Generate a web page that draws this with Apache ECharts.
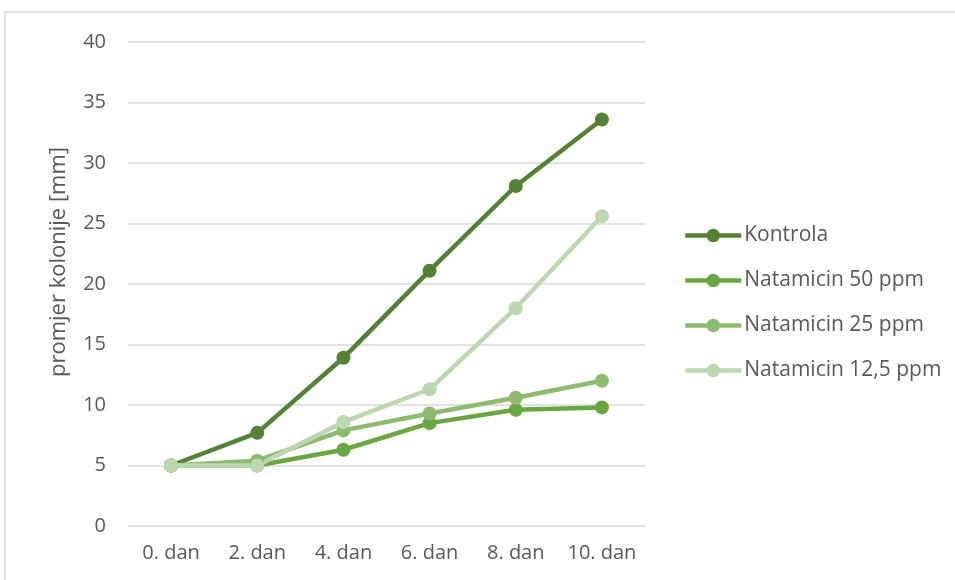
<!DOCTYPE html>
<html><head><meta charset="utf-8">
<script src="https://cdn.jsdelivr.net/npm/echarts@6/dist/echarts.min.js"></script>
<style>html,body{margin:0;padding:0;background:#fff}#c{width:955px;height:580px}</style>
</head><body><div id="c"></div>
<script>
const categories = ['0. dan','2. dan','4. dan','6. dan','8. dan','10. dan'];
const kontrola = [5, 7.7, 13.9, 21.1, 28.1, 33.6];
const nat50 = [5, 5.0, 6.3, 8.5, 9.6, 9.8];
const nat25 = [5, 5.4, 7.9, 9.3, 10.6, 12.0];
const nat125 = [5, 5.0, 8.6, 11.3, 18.0, 25.6];
const seriesNames = ['Kontrola','Natamicin 50 ppm','Natamicin 25 ppm','Natamicin 12,5 ppm'];
const colors = ['#548235','#6aa642','#8dbb70','#bdd8b0'];
const font = 'Open Sans';
const chart = echarts.init(document.getElementById('c'));
const data = [kontrola, nat50, nat25, nat125];
chart.setOption({
  animation:false,
  color: colors,
  graphic:[{type:'rect',shape:{x:5,y:12,width:960,height:580},style:{fill:'none',stroke:'#d9d9d9',lineWidth:1.5},silent:true}],
  grid:{left:128,right:310,top:42,bottom:54},
  legend:{orient:'vertical',left:683,top:225,padding:0,itemWidth:56,itemHeight:17,itemGap:24,
    lineStyle:{width:4.5},
    textStyle:{fontFamily:font,fontSize:21,color:'#595959',padding:[0,0,0,-2]},
    data: seriesNames},
  xAxis:{type:'category',data:categories,boundaryGap:true,
    axisLine:{show:false},axisTick:{show:false},
    axisLabel:{fontFamily:font,fontSize:20,color:'#595959',margin:17,interval:0}},
  yAxis:{type:'value',min:0,max:40,interval:5,
    name:'promjer kolonije [mm]',nameLocation:'middle',nameGap:58,
    nameTextStyle:{fontFamily:font,fontSize:22,color:'#595959',padding:[0,0,0,44]},
    axisLabel:{fontFamily:font,fontSize:20,color:'#595959',margin:22},
    splitLine:{lineStyle:{color:'#d9d9d9',width:1.5}}},
  series: seriesNames.map((n,i)=>({name:n,type:'line',data:data[i],symbol:'circle',symbolSize:14,
    lineStyle:{width:4.5,color:colors[i]},itemStyle:{color:colors[i]}}))
});
</script></body></html>
